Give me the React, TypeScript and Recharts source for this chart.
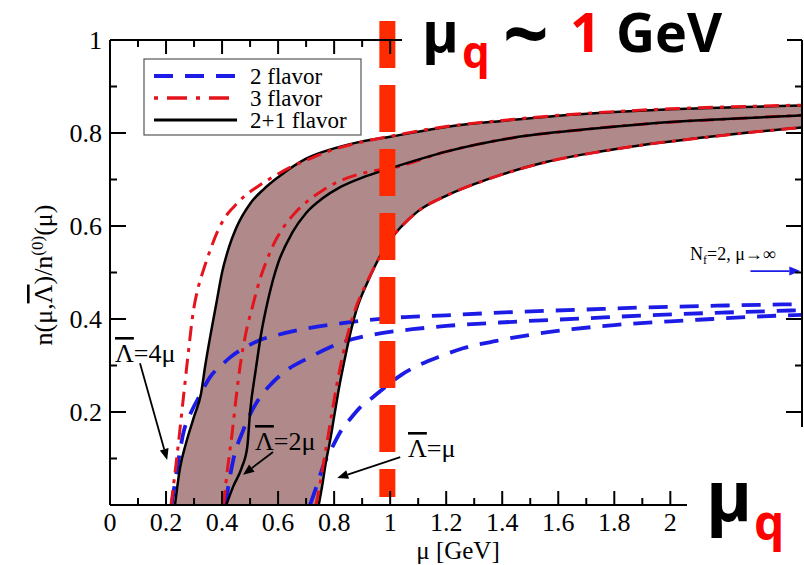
import React from "react";
import { ComposedChart, Line, Area, XAxis, YAxis, ReferenceLine } from "recharts";

type Pt = { x: number; y: number };
const pts = (a: number[][]): Pt[] => a.map(([x, y]) => ({ x, y }));

// 2+1 flavor (black solid)
const blackA = pts([
  [0.232, 0], [0.25, 0.08], [0.27, 0.13], [0.3, 0.19], [0.325, 0.24], [0.34, 0.3], [0.36, 0.37],
  [0.38, 0.435], [0.4, 0.5], [0.425, 0.555], [0.45, 0.595], [0.5, 0.648], [0.55, 0.68], [0.6, 0.705],
  [0.7, 0.745], [0.8, 0.767], [0.9, 0.782], [1.0, 0.792], [1.2, 0.813], [1.4, 0.826], [1.6, 0.837],
  [1.8, 0.845], [2.0, 0.851], [2.2, 0.855], [2.47, 0.859],
]);
const blackB = pts([
  [0.415, 0], [0.44, 0.04], [0.47, 0.08], [0.49, 0.125], [0.5, 0.2], [0.52, 0.29], [0.54, 0.37],
  [0.56, 0.43], [0.58, 0.48], [0.6, 0.52], [0.65, 0.585], [0.7, 0.628], [0.76, 0.66], [0.82, 0.683],
  [0.9, 0.704], [1.0, 0.724], [1.2, 0.76], [1.44, 0.79], [1.7, 0.808], [1.92, 0.82], [2.2, 0.83],
  [2.47, 0.838],
]);
const blackC = pts([
  [0.745, 0], [0.757, 0.04], [0.77, 0.09], [0.786, 0.14], [0.8, 0.19], [0.82, 0.26], [0.84, 0.32],
  [0.86, 0.375], [0.88, 0.42], [0.92, 0.48], [0.964, 0.535], [1.0, 0.57], [1.05, 0.605], [1.1, 0.632],
  [1.2, 0.665], [1.3, 0.69], [1.4, 0.711], [1.56, 0.738], [1.75, 0.76], [1.92, 0.776], [2.1, 0.789],
  [2.28, 0.801], [2.47, 0.812],
]);

// 3 flavor (red dash-dot)
const redA = pts([
  [0.218, 0], [0.24, 0.11], [0.26, 0.22], [0.28, 0.33], [0.297, 0.415], [0.315, 0.468], [0.335, 0.508],
  [0.36, 0.552], [0.385, 0.59], [0.41, 0.618], [0.44, 0.64], [0.48, 0.664], [0.525, 0.684], [0.58, 0.705],
  [0.643, 0.726], [0.7, 0.741], [0.786, 0.762], [0.88, 0.778], [0.975, 0.79], [1.2, 0.814], [1.4, 0.827],
  [1.6, 0.838], [1.8, 0.846], [2.0, 0.852], [2.2, 0.856], [2.47, 0.86],
]);
const redB = pts([
  [0.405, 0], [0.42, 0.08], [0.436, 0.155], [0.45, 0.23], [0.464, 0.297], [0.485, 0.37], [0.51, 0.43],
  [0.535, 0.485], [0.56, 0.527], [0.59, 0.568], [0.62, 0.598], [0.66, 0.628], [0.704, 0.653],
  [0.76, 0.677], [0.81, 0.694], [0.88, 0.71], [0.954, 0.72], [1.0, 0.724], [1.2, 0.76], [1.44, 0.79],
  [1.7, 0.808], [1.92, 0.82], [2.2, 0.83], [2.47, 0.838],
]);
const redC = pts([
  [0.735, 0], [0.748, 0.04], [0.762, 0.09], [0.776, 0.14], [0.79, 0.19], [0.81, 0.26], [0.83, 0.32],
  [0.852, 0.375], [0.875, 0.42], [0.918, 0.48], [0.964, 0.535], [1.0, 0.57], [1.05, 0.605], [1.1, 0.632],
  [1.2, 0.665], [1.3, 0.69], [1.4, 0.711], [1.56, 0.738], [1.75, 0.76], [1.92, 0.776], [2.1, 0.789],
  [2.28, 0.801], [2.47, 0.812],
]);

// 2 flavor (blue dashed)
const blueA = pts([
  [0.22, 0], [0.24, 0.08], [0.262, 0.155], [0.29, 0.2], [0.32, 0.235], [0.357, 0.275], [0.4, 0.302],
  [0.43, 0.318], [0.48, 0.338], [0.536, 0.355], [0.6, 0.366], [0.68, 0.377], [0.83, 0.391],
  [0.975, 0.401], [1.2, 0.408], [1.44, 0.415], [1.68, 0.42], [1.92, 0.425], [2.2, 0.429], [2.47, 0.432],
]);
const blueB = pts([
  [0.412, 0], [0.425, 0.05], [0.44, 0.097], [0.475, 0.16], [0.5, 0.195], [0.536, 0.232], [0.575, 0.26],
  [0.618, 0.284], [0.714, 0.318], [0.83, 0.35], [0.975, 0.37], [1.08, 0.378], [1.2, 0.385],
  [1.44, 0.394], [1.68, 0.401], [1.92, 0.408], [2.2, 0.414], [2.47, 0.419],
]);
const blueC = pts([
  [0.714, 0], [0.74, 0.045], [0.76, 0.082], [0.79, 0.12], [0.82, 0.155], [0.86, 0.187], [0.893, 0.21],
  [0.935, 0.23], [0.975, 0.25], [1.04, 0.28], [1.1, 0.3], [1.18, 0.32], [1.26, 0.337], [1.38, 0.353],
  [1.5, 0.366], [1.65, 0.378], [1.8, 0.387], [2.0, 0.395], [2.15, 0.4], [2.3, 0.405], [2.47, 0.409],
]);

const xTicks = [0, 0.1, 0.2, 0.3, 0.4, 0.5, 0.6, 0.7, 0.8, 0.9, 1, 1.1, 1.2, 1.3, 1.4, 1.5, 1.6, 1.7, 1.8, 1.9, 2, 2.1, 2.2, 2.3, 2.4];
const xLabels = ["0", "0.2", "0.4", "0.6", "0.8", "1", "1.2", "1.4", "1.6", "1.8", "2"];
const yTicks = [0, 0.1, 0.2, 0.3, 0.4, 0.5, 0.6, 0.7, 0.8, 0.9, 1];
const yLabels = ["0.2", "0.4", "0.6", "0.8", "1"];

const SERIF = "'Liberation Serif', 'Times New Roman', serif";
const SANS = "'Open Sans', sans-serif";
const BLUE = "#1c1ce6";
const RED = "#e5141c";
const BAND = "#b08a8a";

const fmt = (v: number) => String(Number(v.toFixed(1)));
const isMajor = (v: number) => Math.abs(v * 5 - Math.round(v * 5)) < 1e-6;

const BottomTick = (p: any) => {
  const v = p.payload.value;
  const len = isMajor(v) ? 14 : 7;
  return (
    <g>
      <line x1={p.x} x2={p.x} y1={p.y} y2={p.y - len} stroke="#000" strokeWidth={2} />
      {xLabels.includes(fmt(v)) && (
        <text x={p.x} y={p.y + 26} textAnchor="middle" fontFamily={SERIF} fontSize={26} fill="#000">{fmt(v)}</text>
      )}
    </g>
  );
};
const TopTick = (p: any) => {
  const len = isMajor(p.payload.value) ? 14 : 7;
  return <line x1={p.x} x2={p.x} y1={p.y} y2={p.y + len} stroke="#000" strokeWidth={2} />;
};
const LeftTick = (p: any) => {
  const v = p.payload.value;
  const len = isMajor(v) ? 16 : 7;
  return (
    <g>
      <line x1={p.x} x2={p.x + len} y1={p.y} y2={p.y} stroke="#000" strokeWidth={2} />
      {yLabels.includes(fmt(v)) && (
        <text x={p.x - 8} y={p.y + 9} textAnchor="end" fontFamily={SERIF} fontSize={26} fill="#000">{fmt(v)}</text>
      )}
    </g>
  );
};
const RightTick = (p: any) => {
  const len = isMajor(p.payload.value) ? 16 : 7;
  return <line x1={p.x} x2={p.x - len} y1={p.y} y2={p.y} stroke="#000" strokeWidth={2} />;
};

const arrow = (color: string) => (p: any) => {
  const { x1, y1, x2, y2 } = p;
  const a = Math.atan2(y2 - y1, x2 - x1);
  const L = 11, W = 4.5;
  const bx = x2 - L * Math.cos(a), by = y2 - L * Math.sin(a);
  const px = -Math.sin(a) * W, py = Math.cos(a) * W;
  return (
    <g>
      <line x1={x1} y1={y1} x2={bx} y2={by} stroke={color} strokeWidth={1.8} />
      <polygon points={`${x2},${y2} ${bx + px},${by + py} ${bx - px},${by - py}`} fill={color} />
    </g>
  );
};

const lineCommon = { dataKey: "y", type: "monotone" as const, dot: false, activeDot: false, isAnimationActive: false };
const blueStyle = { stroke: BLUE, strokeWidth: 3.8, strokeDasharray: "19 12" };
const redStyle = { stroke: RED, strokeWidth: 3, strokeDasharray: "15 7 4 7" };
const blackStyle = { stroke: "#000", strokeWidth: 2.5 };
const axisLine = { stroke: "#000", strokeWidth: 2 };
const over = { textDecoration: "overline" };

export default function App() {
  return (
    <div style={{ position: "absolute", left: 0, top: 0, width: 804, height: 565, background: "#fff", overflow: "hidden" }}>
      <ComposedChart width={804} height={565} margin={{ top: 30, right: 0, bottom: 30, left: 50 }}>
        <XAxis xAxisId={0} type="number" dataKey="x" domain={[0, 2.47]} ticks={xTicks} interval={0}
          height={30} tickSize={0} tickMargin={0} tick={<BottomTick />} tickLine={false}
          axisLine={axisLine} allowDataOverflow />
        <XAxis xAxisId="t" orientation="top" type="number" dataKey="x" domain={[0, 2.47]} ticks={xTicks} interval={0}
          height={10} tickSize={0} tickMargin={0} tick={<TopTick />} tickLine={false}
          axisLine={axisLine} allowDataOverflow />
        <YAxis yAxisId={0} type="number" domain={[0, 1]} ticks={yTicks} interval={0}
          width={60} tickSize={0} tickMargin={0} tick={<LeftTick />} tickLine={false}
          axisLine={axisLine} allowDataOverflow />
        <YAxis yAxisId="r" orientation="right" type="number" domain={[0, 1]} ticks={yTicks} interval={0}
          width={2} tickSize={0} tickMargin={0} tick={<RightTick />} tickLine={false}
          axisLine={axisLine} allowDataOverflow />

        <Area data={blackA} dataKey="y" type="monotone" fill={BAND} fillOpacity={1} stroke="none" isAnimationActive={false} activeDot={false} />
        <Area data={blackC} dataKey="y" type="monotone" fill="#fff" fillOpacity={1} stroke="none" isAnimationActive={false} activeDot={false} />

        <Line data={blueA} {...lineCommon} {...blueStyle} />
        <Line data={blueB} {...lineCommon} {...blueStyle} />
        <Line data={blueC} {...lineCommon} {...blueStyle} />
        <Line data={redB} {...lineCommon} {...redStyle} />
        <Line data={blackA} {...lineCommon} {...blackStyle} />
        <Line data={blackB} {...lineCommon} {...blackStyle} />
        <Line data={blackC} {...lineCommon} {...blackStyle} />
        <Line data={redA} {...lineCommon} {...redStyle} />
        <Line data={redC} {...lineCommon} {...redStyle} />

        <ReferenceLine segment={[{ x: 0.107, y: 0.305 }, { x: 0.204, y: 0.097 }]} ifOverflow="visible" shape={arrow("#000")} />
        <ReferenceLine segment={[{ x: 0.582, y: 0.114 }, { x: 0.475, y: 0.065 }]} ifOverflow="visible" shape={arrow("#000")} />
        <ReferenceLine segment={[{ x: 1.036, y: 0.103 }, { x: 0.811, y: 0.058 }]} ifOverflow="visible" shape={arrow("#000")} />
        <ReferenceLine segment={[{ x: 2.286, y: 0.503 }, { x: 2.464, y: 0.503 }]} ifOverflow="visible" shape={arrow(BLUE)} />

        <ReferenceLine segment={[{ x: 0.99, y: 1.041 }, { x: 0.99, y: 0.017 }]} ifOverflow="visible"
          stroke="#ff2b00" strokeWidth={16} strokeDasharray="47 17" />
      </ComposedChart>

      <svg width={804} height={565} style={{ position: "absolute", left: 0, top: 0, pointerEvents: "none" }}>
        {/* legend */}
        <rect x={144} y={59} width={217} height={76} fill="#fff" stroke="#555" strokeWidth={1.2} />
        <line x1={154} x2={237} y1={76} y2={76} stroke={BLUE} strokeWidth={4} strokeDasharray="19 12" />
        <line x1={154} x2={237} y1={98} y2={98} stroke={RED} strokeWidth={3.5} strokeDasharray="4 9 20 9" />
        <line x1={154} x2={237} y1={120} y2={120} stroke="#000" strokeWidth={3} />
        <g fontFamily={SERIF} fontSize={23} fill="#000">
          <text x={250} y={84}>2 flavor</text>
          <text x={250} y={106}>3 flavor</text>
          <text x={250} y={128}>2+1 flavor</text>
        </g>

        {/* axis titles */}
        <text transform="rotate(-90 52 275)" x={52} y={275} textAnchor="middle" fontFamily={SERIF} fontSize={26} fill="#000">
          n(μ,<tspan style={over}>Λ</tspan>)/n<tspan dy={-9} fontSize={17}>(0)</tspan><tspan dy={9}>(μ)</tspan>
        </text>
        <text x={458} y={559} textAnchor="middle" fontFamily={SERIF} fontSize={25} fill="#000">μ [GeV]</text>

        {/* annotations */}
        <g fontFamily={SERIF} fontSize={26} fill="#000">
          <text x={115} y={362}><tspan style={over}>Λ</tspan>=4μ</text>
          <text x={255} y={450}><tspan style={over}>Λ</tspan>=2μ</text>
          <text x={408} y={457}><tspan style={over}>Λ</tspan>=μ</text>
        </g>
        <text x={690} y={260} fontFamily={SERIF} fontSize={18} fill="#000">
          N<tspan dy={4} fontSize={12}>f</tspan><tspan dy={-4}>=2, μ→∞</tspan>
        </text>

        {/* title box */}
        <rect x={402} y={0} width={385} height={80} fill="#fff" />
        <g fontFamily={SANS} fontWeight={700}>
          <text x={422} y={52} fontSize={56} fill="#000">μ</text>
          <text x={462} y={68} fontSize={44} fill="#ff0000">q</text>
          <text x={503} y={63} fontSize={80} fill="#000">~</text>
          <text x={570} y={52} fontSize={54} fill="#ff0000">1</text>
          <text x={616} y={52} fontSize={54} fill="#000">GeV</text>
        </g>

        {/* bottom-right label */}
        <rect x={687} y={427} width={117} height={138} fill="#fff" />
        <g fontFamily={SANS} fontWeight={700}>
          <text x={706} y={521} fontSize={70} fill="#000">μ</text>
          <text x={754} y={540} fontSize={48} fill="#ff0000">q</text>
        </g>
      </svg>
    </div>
  );
}
